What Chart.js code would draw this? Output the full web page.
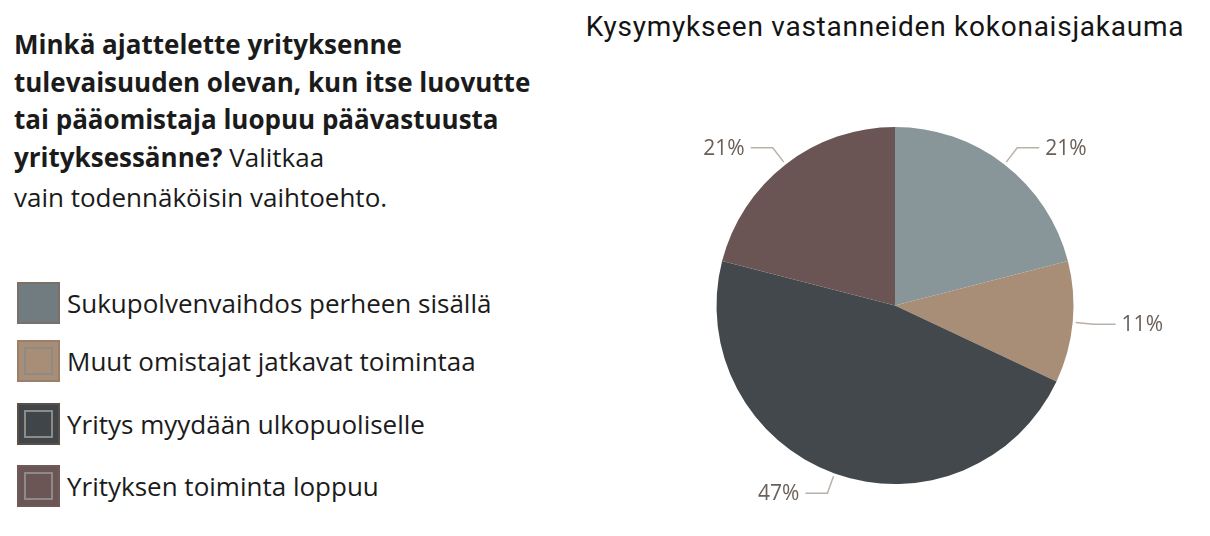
<!DOCTYPE html>
<html>
<head>
<meta charset="utf-8">
<script src="https://cdn.jsdelivr.net/npm/chart.js@4.4.1/dist/chart.umd.min.js"></script>
<style>
  html, body { margin: 0; padding: 0; background: #fff; }
  body { width: 1210px; height: 536px; position: relative; overflow: hidden; font-family: "Open Sans", "Noto Sans", sans-serif; color: #1b1b1b; }
  #question { position: absolute; left: 14px; top: 26px; font-size: 26px; line-height: 37.6px; }
  #question b { font-weight: 700; }
  #question .last { margin-top: 3px; }
  #legend { position: absolute; left: 17px; top: 282px; }
  .row { position: absolute; left: 0; height: 42px; width: 560px; }
  .sw { position: absolute; left: 0; top: 0; width: 39px; height: 38px; border: 2px solid; }
  .sw i { position: absolute; left: 5px; top: 5px; width: 25px; height: 24px; border: 2px solid #8e8a86; }
  .lbl { position: absolute; left: 50px; top: 0; line-height: 42px; font-size: 26px; white-space: nowrap; }
  #title { position: absolute; left: 560px; width: 650px; top: 10px; text-align: center; font-family: Roboto, sans-serif; font-size: 28px; color: #141414; letter-spacing: 0.75px; }
  #wrap { position: absolute; left: 560px; top: 0; width: 650px; height: 536px; }
</style>
</head>
<body>
<div id="question"><b>Minkä ajattelette yrityksenne<br>tulevaisuuden olevan, kun itse luovutte<br>tai pääomistaja luopuu päävastuusta<br>yrityksessänne?</b> Valitkaa<div class="last">vain todennäköisin vaihtoehto.</div></div>
<div id="legend"></div>
<div id="title">Kysymykseen vastanneiden kokonaisjakauma</div>
<div id="wrap"><canvas id="pie"></canvas></div>
<script>
var labels = ["Sukupolvenvaihdos perheen sisällä", "Muut omistajat jatkavat toimintaa", "Yritys myydään ulkopuoliselle", "Yrityksen toiminta loppuu"];
var shares = [21, 11, 47, 21];
var colors = ["#88969a", "#a88e77", "#42484b", "#6b5554"];
var swatchFill = ["#707c7f", "#a88e77", "#3f4548", "#6b5555"];
var swatchBorder = ["#7b7068", "#9a8069", "#5b4f46", "#6e5a58"];

// legend on the left
var legend = document.getElementById("legend");
var rowTops = [0, 58, 121, 183];
labels.forEach(function (name, i) {
	var row = document.createElement("div");
	row.className = "row";
	row.style.top = rowTops[i] + "px";
	row.innerHTML = '<div class="sw" style="background:' + swatchFill[i] + ';border-color:' + swatchBorder[i] + '">' +
		(i > 0 ? '<i></i>' : '') + '</div><div class="lbl">' + name + '</div>';
	legend.appendChild(row);
});

// percentage labels with leader lines
var leaderLabels = {
	id: "leaderLabels",
	afterDatasetsDraw: function (chart) {
		var ctx = chart.ctx;
		var meta = chart.getDatasetMeta(0);
		ctx.save();
		ctx.font = "21px 'Open Sans', sans-serif";
		ctx.textBaseline = "middle";
		meta.data.forEach(function (arc, i) {
			var mid = (arc.startAngle + arc.endAngle) / 2;
			var cos = Math.cos(mid), sin = Math.sin(mid);
			var r = arc.outerRadius;
			var x0 = arc.x + (r + 3) * cos, y0 = arc.y + (r + 3) * sin;
			var x1 = arc.x + (r + 21) * cos, y1 = arc.y + (r + 21) * sin;
			var right = cos >= 0;
			var x2 = x1 + (right ? 22 : -22);
			ctx.strokeStyle = "#b9b1a9";
			ctx.lineWidth = 1.5;
			ctx.beginPath();
			ctx.moveTo(x0, y0);
			ctx.lineTo(x1, y1);
			ctx.lineTo(x2, y1);
			ctx.stroke();
			ctx.fillStyle = "#6b6058";
			ctx.textAlign = right ? "left" : "right";
			ctx.fillText(shares[i] + "%", x2 + (right ? 6 : -6), y1 + 1);
		});
		ctx.restore();
	}
};

var chart = new Chart(document.getElementById("pie"), {
	type: "pie",
	data: {
		labels: labels,
		datasets: [{
			data: shares,
			backgroundColor: colors,
			borderWidth: 0
		}]
	},
	options: {
		responsive: true,
		maintainAspectRatio: false,
		animation: false,
		layout: { padding: { top: 127, bottom: 52, left: 20, right: 0 } },
		plugins: {
			legend: { display: false },
			tooltip: { enabled: false },
			title: { display: false }
		}
	},
	plugins: [leaderLabels]
});
</script>
</body>
</html>
